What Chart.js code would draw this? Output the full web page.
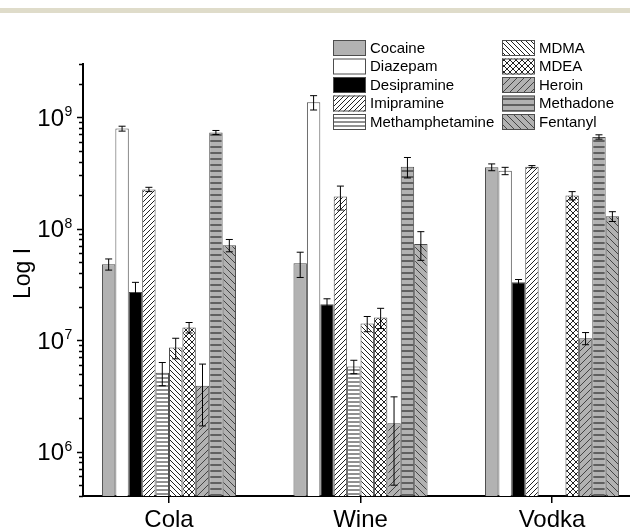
<!DOCTYPE html>
<html>
<head>
<meta charset="utf-8">
<script src="https://cdn.jsdelivr.net/npm/chart.js@4.4.1/dist/chart.umd.min.js"></script>
<style>
body { margin: 0; background: #fff; }
#band { position: absolute; left: 0; top: 8px; width: 630px; height: 5px; background: #dfdcca; }
#myChart { position: absolute; left: 0; top: 0; }
</style>
</head>
<body>
<div id="band"></div>
<canvas id="myChart" width="630" height="529"></canvas>
<script>
var categories = ['Cola', 'Wine', 'Vodka'];
var drugs = ['Cocaine', 'Diazepam', 'Desipramine', 'Imipramine', 'Methamphetamine',
             'MDMA', 'MDEA', 'Heroin', 'Methadone', 'Fentanyl'];

// intensity per drink, in the same order as drugs
var cola  = [4.8e7, 7.9e8, 2.7e7, 2.25e8, 5.1e6, 8.6e6, 1.3e7, 3.9e6, 7.3e8, 7.1e7];
var wine  = [4.9e7, 1.36e9, 2.1e7, 1.94e8, 5.8e6, 1.41e7, 1.6e7, 1.8e6, 3.6e8, 7.3e7];
var vodka = [3.56e8, 3.3e8, 3.3e7, 3.6e8, null, null, 1.98e8, 1.04e7, 6.65e8, 1.29e8];

// error (+/-)
var colaErr  = [0.55e7, 0.4e8, 0.6e7, 0.1e8, 1.2e6, 1.8e6, 0.14e7, 2.2e6, 0.3e8, 0.9e7];
var wineErr  = [1.25e7, 0.2e9, 0.25e7, 0.47e8, 0.8e6, 0.22e7, 0.33e7, 1.3e6, 0.75e8, 2.1e7];
var vodkaErr = [0.25e8, 0.25e8, 0.2e7, 0.08e8, null, null, 0.17e8, 0.13e7, 0.3e8, 0.13e8];

var yTicks = [1e6, 1e7, 1e8, 1e9];

var FONT = '"Liberation Sans", Arial, sans-serif';
var ctx = document.getElementById('myChart').getContext('2d');

function hatch(bg, fg, size, lw, kinds) {
  var c = document.createElement('canvas');
  c.width = c.height = size;
  var g = c.getContext('2d');
  g.fillStyle = bg;
  g.fillRect(0, 0, size, size);
  g.strokeStyle = fg;
  g.lineWidth = lw;
  kinds.forEach(function (k) {
    g.beginPath();
    if (k === '/') {
      g.moveTo(0, size); g.lineTo(size, 0);
      g.moveTo(-1, 1); g.lineTo(1, -1);
      g.moveTo(size - 1, size + 1); g.lineTo(size + 1, size - 1);
    }
    if (k === '\\') {
      g.moveTo(0, 0); g.lineTo(size, size);
      g.moveTo(-1, size - 1); g.lineTo(1, size + 1);
      g.moveTo(size - 1, -1); g.lineTo(size + 1, 1);
    }
    if (k === '-') {
      g.moveTo(0, size / 2); g.lineTo(size, size / 2);
    }
    g.stroke();
  });
  return ctx.createPattern(c, 'repeat');
}

var gray = '#b2b2b2';
var fills = [
  gray,
  '#ffffff',
  '#000000',
  hatch('#fff', '#222', 5, 1, ['/']),
  hatch('#fff', '#222', 4, 1, ['-']),
  hatch('#fff', '#222', 5, 1, ['\\']),
  hatch('#fff', '#222', 6, 1, ['/', '\\']),
  hatch(gray, '#444', 7, 1, ['/']),
  hatch(gray, '#444', 6, 1.5, ['-']),
  hatch(gray, '#444', 7, 1, ['\\'])
];

var perDrink = [cola, wine, vodka];
var perDrinkErr = [colaErr, wineErr, vodkaErr];

var datasets = drugs.map(function (d, i) {
  return {
    label: d,
    data: categories.map(function (c, j) { return { x: j + 1, y: perDrink[j][i] }; }),
    err: categories.map(function (c, j) { return perDrinkErr[j][i]; }),
    backgroundColor: fills[i],
    borderColor: '#4d4d4d',
    borderWidth: 1,
    barPercentage: 1,
    categoryPercentage: 0.7
  };
});

var extras = {
  id: 'extras',
  afterDatasetsDraw: function (chart) {
    var c = chart.ctx, y = chart.scales.y;
    c.save();
    c.strokeStyle = '#000';
    c.lineWidth = 1;
    chart.data.datasets.forEach(function (ds, i) {
      var meta = chart.getDatasetMeta(i);
      meta.data.forEach(function (bar, j) {
        var v = ds.data[j].y, e = ds.err[j];
        if (v == null || e == null) return;
        var yt = y.getPixelForValue(v + e);
        var yb = y.getPixelForValue(Math.max(v - e, 1));
        c.beginPath();
        c.moveTo(bar.x, yt); c.lineTo(bar.x, yb);
        c.moveTo(bar.x - 3.5, yt); c.lineTo(bar.x + 3.5, yt);
        c.moveTo(bar.x - 3.5, yb); c.lineTo(bar.x + 3.5, yb);
        c.stroke();
      });
    });
    c.restore();
  },
  afterDraw: function (chart) {
    var c = chart.ctx, y = chart.scales.y, left = chart.chartArea.left;
    c.save();
    // y tick marks
    c.strokeStyle = '#000';
    c.lineWidth = 1.5;
    for (var e = 5; e <= 9; e++) {
      for (var k = 1; k <= 9; k++) {
        var v = k * Math.pow(10, e);
        if (v < y.min || v > y.max) continue;
        var py = Math.round(y.getPixelForValue(v)) + 0.5;
        c.beginPath();
        c.moveTo(left - (k === 1 ? 6 : 4), py);
        c.lineTo(left, py);
        c.stroke();
      }
    }
    // y tick labels
    c.fillStyle = '#000';
    yTicks.forEach(function (t) {
      var py = y.getPixelForValue(t);
      c.font = '24px ' + FONT;
      c.textAlign = 'right';
      c.textBaseline = 'alphabetic';
      c.fillText('10', 64, py + 8.5);
      c.font = '14px ' + FONT;
      c.textAlign = 'left';
      c.fillText(String(Math.round(Math.log10(t))), 64.5, py - 1);
    });
    // y title
    c.save();
    c.translate(30, 273.5);
    c.rotate(-Math.PI / 2);
    c.font = '23px ' + FONT;
    c.textAlign = 'center';
    c.textBaseline = 'alphabetic';
    c.fillText('Log I', 0, 0);
    c.restore();
    // legend
    c.font = '15px ' + FONT;
    c.textAlign = 'left';
    c.textBaseline = 'middle';
    chart.data.datasets.forEach(function (ds, i) {
      var bx = i < 5 ? 333 : 502;
      var by = 40 + (i % 5) * 18.5;
      c.fillStyle = ds.backgroundColor;
      c.fillRect(bx, by, 33, 16);
      c.strokeStyle = '#4d4d4d';
      c.lineWidth = 1;
      c.strokeRect(bx + 0.5, by + 0.5, 32, 15);
      c.fillStyle = '#000';
      c.fillText(ds.label, bx + 37, by + 8.5);
    });
    c.restore();
  }
};

var chart = new Chart(ctx, {
  type: 'bar',
  data: { datasets: datasets },
  options: {
    responsive: false,
    animation: false,
    layout: { padding: { top: 64, left: 0, right: 0, bottom: 0 } },
    plugins: { legend: { display: false }, tooltip: { enabled: false } },
    scales: {
      x: {
        type: 'linear',
        min: 0.551,
        max: 3.407,
        offset: false,
        afterBuildTicks: function (s) { s.ticks = [1, 2, 3].map(function (v) { return { value: v }; }); },
        afterFit: function (s) { s.height = 33; },
        ticks: {
          autoSkip: false,
          maxRotation: 0,
          padding: 3,
          color: '#000',
          font: { size: 24, family: FONT },
          callback: function (v) { return categories[Math.round(v) - 1]; }
        },
        grid: { display: true, drawOnChartArea: false, drawTicks: true, tickLength: 7, color: '#000', lineWidth: 1.5, offset: false },
        border: { display: true, color: '#000', width: 2 }
      },
      y: {
        type: 'logarithmic',
        min: 4e5,
        max: 3e9,
        afterFit: function (s) { s.width = 83; },
        ticks: { display: false },
        grid: { display: false },
        border: { display: true, color: '#000', width: 2 }
      }
    }
  },
  plugins: [extras]
});
</script>
</body>
</html>
